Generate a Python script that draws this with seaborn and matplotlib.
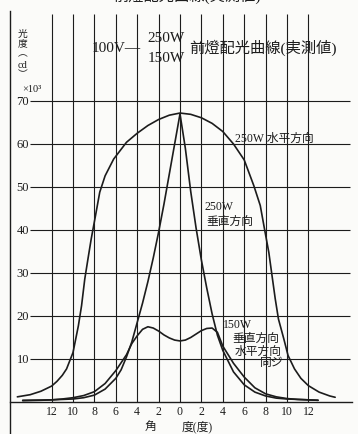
import numpy as np
import pandas as pd
import matplotlib
matplotlib.use("Agg")
import matplotlib.pyplot as plt
import seaborn as sns

# angle in degrees (negative = left side), luminous intensity in x10^3 cd
h250_deg = [-15.2, -14, -13, -12, -11.5, -11, -10.6, -10, -9.5, -9.2, -8.9, -8.6, -8.3, -7.9,
            -7.5, -7, -6.2, -5, -4, -3, -2, -1, 0, 1, 2, 3, 4, 5, 6, 6.9, 7.5, 7.9,
            8.3, 8.6, 8.9, 9.2, 9.7, 10.1, 10.7, 11.3, 12, 13, 14, 14.5]
h250_val = [1.2, 1.7, 2.5, 3.7, 4.8, 6.2, 7.7, 11.5, 17.7, 22.4, 28.6, 33.3, 37.9, 43.3,
            48.8, 52.6, 56.5, 60.4, 62.5, 64.3, 65.7, 66.7, 67.2, 66.9, 66.1, 64.8, 62.9, 60.0, 56.3, 50.3, 45.7, 40.2,
            34.8, 29.4, 24, 19.3, 14.7, 10.8, 7.7, 5.5, 3.8, 2.3, 1.4, 1.1]

v250_deg = [-14.7, -13, -12, -10, -9, -8, -7, -6, -5.5, -5, -4.5, -4, -3.5, -3, -2.5, -2,
            -1.5, -1, -0.5, 0, 0.5, 1, 1.5, 2, 2.5, 3, 3.5, 4, 4.5, 5, 6, 7, 8, 9, 10, 12, 12.9]
v250_val = [0.4, 0.45, 0.5, 0.7, 1.0, 1.6, 3.0, 5.5, 7.5, 10.5, 14, 18.5, 23, 28, 33.5, 39.5,
            46, 53, 60, 67, 59, 49, 40.5, 33, 26.5, 20.5, 15.5, 12, 9.5, 7, 4, 2.3, 1.4, 0.9, 0.7, 0.5, 0.4]

w150_deg = [-14.7, -13, -12, -11, -10, -9, -8, -7, -6, -5, -4.5, -4, -3.5, -3, -2.5, -2,
            -1.5, -1, -0.5, 0, 0.5, 1, 1.5, 2, 2.5, 3, 3.5, 4, 4.5, 5, 6, 7, 8, 9, 10, 11, 12, 12.9]
w150_val = [0.3, 0.4, 0.5, 0.7, 1.0, 1.5, 2.4, 4.3, 7.3, 11, 13.6, 15.4, 16.9, 17.5, 17.2, 16.5,
            15.6, 14.9, 14.4, 14.2, 14.4, 15, 15.8, 16.6, 17.1, 17.2, 16.2, 13, 11, 9, 5.8, 3.3, 1.9, 1.2, 0.8, 0.6, 0.5, 0.4]

x_ticks = [-12, -10, -8, -6, -4, -2, 0, 2, 4, 6, 8, 10, 12]
y_ticks = [10, 20, 30, 40, 50, 60, 70]

df = pd.concat([
    pd.DataFrame({'angle': h250_deg, 'cd': h250_val, 'series': '250W 水平方向'}),
    pd.DataFrame({'angle': v250_deg, 'cd': v250_val, 'series': '250W 垂直方向'}),
    pd.DataFrame({'angle': w150_deg, 'cd': w150_val, 'series': '150W'}),
])

sns.set_style("white")
plt.rcParams['font.family'] = ['Liberation Serif', 'Noto Sans CJK JP']

W, H = 358, 435
ink = '#1c1c1c'
fig = plt.figure(figsize=(W / 100, H / 100), dpi=100, facecolor='#fbfbf9')
ax = fig.add_axes([10 / W, 0, 342 / W, 1 - 12 / H])
ax.set_facecolor('#fbfbf9')

# pixel -> data helpers (0 deg at x=180px, 10.7 px/deg; 0 at y=403px, 4.3 px/unit)
def dx(px):
    return (px - 180) / 10.7

def dy(py):
    return (403 - py) / 4.3

ax.set_xlim(dx(10), dx(352))
ax.set_ylim(dy(435), dy(12))

# grid
ax.vlines(x_ticks, 0, dy(15), color=ink, lw=0.8)
ax.hlines(y_ticks, dx(30), dx(350), color=ink, lw=0.8)

sns.lineplot(data=df, x='angle', y='cd', units='series', estimator=None,
             color=ink, lw=1.2, ax=ax, legend=False)

for s in ['top', 'right']:
    ax.spines[s].set_visible(False)
ax.spines['bottom'].set_position(('data', 0))
ax.spines['bottom'].set_color(ink)
ax.spines['bottom'].set_linewidth(1.0)
ax.spines['left'].set_color(ink)
ax.spines['left'].set_linewidth(1.0)
ax.set_xticks(x_ticks)
ax.set_xticklabels([str(abs(t)) for t in x_ticks], fontsize=8.5, color=ink)
ax.tick_params(axis='x', length=0, pad=2.5)
ax.set_yticks([])
ax.set_xlabel('')
ax.set_ylabel('')

for t in y_ticks:
    ax.text(dx(29), t, str(t), ha='right', va='center', fontsize=9, color=ink)

# curve labels
ax.text(dx(235), dy(139), '250W 水平方向', fontsize=8.5, va='center', color=ink)
ax.text(dx(205), dy(207), '250W', fontsize=8.5, va='center', color=ink)
ax.text(dx(206), dy(222), '垂直方向', fontsize=8.5, va='center', color=ink)
ax.text(dx(223), dy(325), '150W', fontsize=8.5, va='center', color=ink)
ax.text(dx(232), dy(339), '垂直方向', fontsize=8.5, va='center', color=ink)
ax.text(dx(235), dy(352), '水平方向', fontsize=8.5, va='center', color=ink)
ax.text(dx(260), dy(363), '同ジ', fontsize=8.5, va='center', color=ink)

# x axis label
ax.text(dx(150), dy(427), '角', fontsize=8.5, ha='center', va='center', color=ink)
ax.text(dx(182), dy(427), '度(度)', fontsize=8.5, ha='left', va='center', color=ink)

def ft(px, py, s, **kw):
    fig.text(px / W, 1 - py / H, s, color=ink, **kw)

# y axis label, vertical writing
ft(23, 34, '光', fontsize=7, ha='center', va='center')
ft(23, 44, '度', fontsize=7, ha='center', va='center')
ft(23, 54, '︵', fontsize=7, ha='center', va='center')
ft(23, 66, 'cd', fontsize=7.5, ha='center', va='center')
ft(23, 75, '︶', fontsize=7, ha='center', va='center')
ft(22, 89, '×10³', fontsize=7.5, ha='left', va='center')

# title
ft(92, 48, '100V—', fontsize=11, ha='left', va='center')
ft(166, 39, '250W', fontsize=11, ha='center', va='center')
ft(166, 58, '150W', fontsize=11, ha='center', va='center')
ft(189, 48, '前燈配光曲線(実測値)', fontsize=11, ha='left', va='center')
# page header cut off at the top edge
ft(187, -4, '前燈配光曲線(実測値)', fontsize=11, ha='center', va='center')

fig.savefig('out.png', dpi=100, facecolor=fig.get_facecolor())
